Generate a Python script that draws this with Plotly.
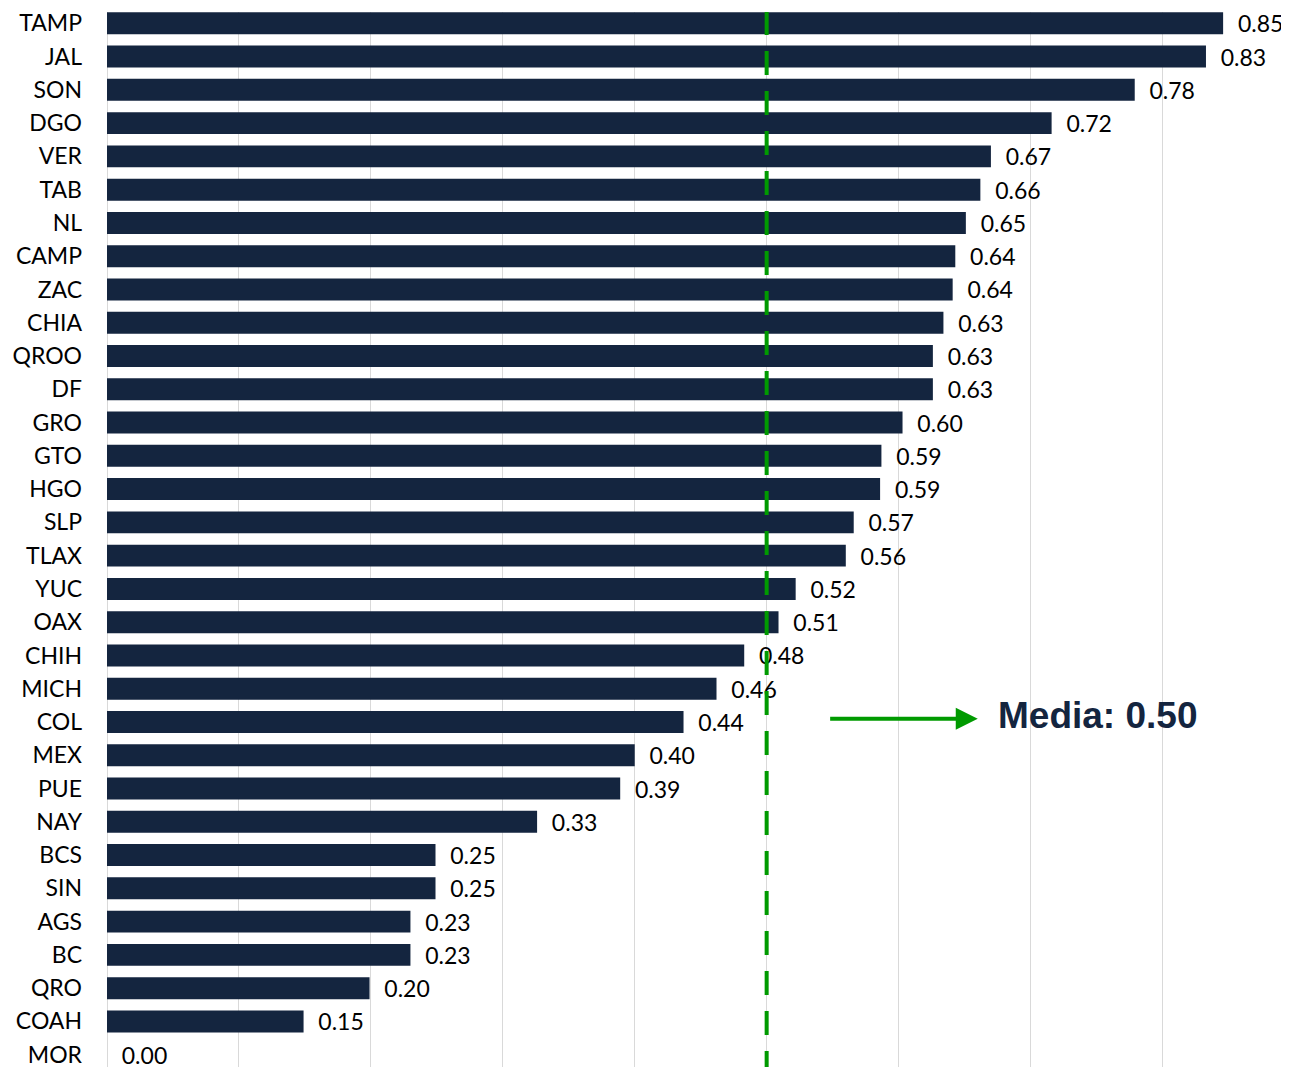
import plotly.graph_objects as go

states = ["TAMP", "JAL", "SON", "DGO", "VER", "TAB", "NL", "CAMP", "ZAC", "CHIA",
          "QROO", "DF", "GRO", "GTO", "HGO", "SLP", "TLAX", "YUC", "OAX", "CHIH",
          "MICH", "COL", "MEX", "PUE", "NAY", "BCS", "SIN", "AGS", "BC", "QRO",
          "COAH", "MOR"]
values = [0.846, 0.833, 0.779, 0.716, 0.670, 0.662, 0.651, 0.643, 0.641, 0.634,
          0.626, 0.626, 0.603, 0.587, 0.586, 0.566, 0.560, 0.522, 0.509, 0.483,
          0.462, 0.437, 0.400, 0.389, 0.326, 0.249, 0.249, 0.230, 0.230, 0.199,
          0.149, 0.000]
mean_value = 0.50
mean_label = "Media: 0.50"

NAVY = "#14253F"
GREEN = "#009A00"

fig = go.Figure()
fig.add_trace(go.Bar(
    x=values, y=states, orientation="h",
    marker=dict(color=NAVY, line=dict(width=0)),
    texttemplate="\u00a0\u00a0%{x:.2f}",
    textposition="outside",
    constraintext="none",
    textfont=dict(family="Lato", size=23, color="#000000"),
    cliponaxis=False,
    hoverinfo="skip",
))

# mean dashed line
fig.add_shape(type="line", xref="x", yref="paper", x0=mean_value, x1=mean_value,
              y0=0, y1=1, layer="above",
              line=dict(color=GREEN, width=4, dash="24px,16px"))

# arrow
fig.add_annotation(x=0.660, y=20.9, ax=0.547, ay=20.9, xref="x", yref="y",
                   axref="x", ayref="y", text="", showarrow=True,
                   arrowhead=2, arrowsize=1.1, arrowwidth=4, arrowcolor=GREEN)
fig.add_annotation(x=0.674, y=20.8, xref="x", yref="y", text="<b>" + mean_label + "</b>",
                   showarrow=False, xanchor="left", yanchor="middle",
                   font=dict(family="Liberation Sans", size=37, color=NAVY))

fig.update_layout(
    width=1289, height=1067,
    margin=dict(l=99, r=0, t=0, b=0),
    plot_bgcolor="white", paper_bgcolor="white",
    bargap=0.34,
    showlegend=False,
    font=dict(family="Lato", size=23, color="#000000"),
)
fig.update_xaxes(range=[0, 0.902], dtick=0.1, showgrid=True, gridcolor="#D9D9D9",
                 gridwidth=1, showticklabels=False, zeroline=True,
                 zerolinecolor="#D9D9D9", zerolinewidth=1, ticks="")
fig.update_yaxes(range=[31.61, -0.34], type="category", showgrid=False, ticks="",
                 ticklabelstandoff=24, tickfont=dict(family="Lato", size=23, color="#000000"))

fig.write_html("out.html")
